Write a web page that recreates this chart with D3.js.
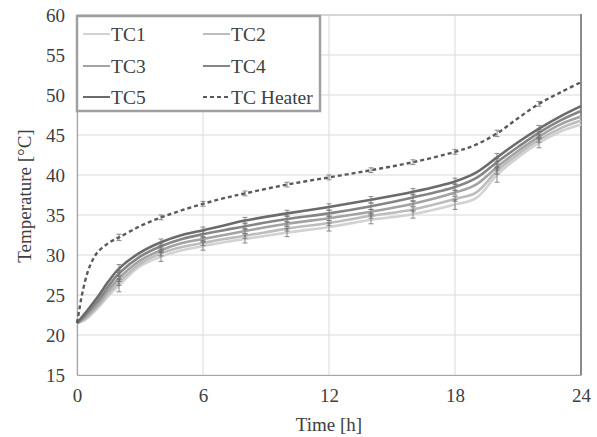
<!DOCTYPE html>
<html><head><meta charset="utf-8">
<script src="https://cdn.jsdelivr.net/npm/d3@7"></script>
<style>body{margin:0;background:#fff}svg{display:block}</style>
</head><body>
<svg id="c" width="597" height="437"></svg>
<script>
const timeTC = [0,0.25,0.5,1,1.5,2,3,4,5,6,7,8,10,12,14,16,18,19,20,21,22,23,24];
const TC1 = [21.5,21.7,22.1,23.4,24.9,26.2,28.6,29.8,30.6,31.1,31.6,32.0,32.8,33.5,34.4,35.1,36.3,37.1,40.0,42.2,44.0,45.4,46.3];
const TC2 = [21.5,21.8,22.3,23.6,25.2,26.6,28.9,30.2,31.0,31.5,32.0,32.4,33.3,34.0,34.9,35.7,37.0,37.8,40.5,42.6,44.4,45.8,46.8];
const TC3 = [21.5,21.9,22.5,23.9,25.6,27.1,29.3,30.6,31.5,32.0,32.5,33.0,33.9,34.6,35.4,36.4,37.8,38.8,41.0,43.0,44.8,46.3,47.3];
const TC4 = [21.5,22.1,22.8,24.3,26.1,27.7,29.8,31.1,32.0,32.6,33.1,33.6,34.5,35.2,36.1,37.2,38.5,39.6,41.6,43.5,45.3,46.8,48.0];
const TC5 = [21.5,22.3,23.1,24.8,26.7,28.3,30.3,31.6,32.5,33.1,33.7,34.3,35.2,36.0,36.9,37.9,39.2,40.3,42.2,44.1,45.8,47.3,48.6];
const timeHeater = [0,0.1,0.25,0.5,0.75,1,1.5,2,3,4,5,6,7,8,10,12,14,16,18,19,20,21,22,23,24];
const TCHeater = [21.5,23.0,25.2,27.8,29.4,30.4,31.5,32.2,33.6,34.7,35.6,36.4,37.1,37.7,38.8,39.7,40.6,41.6,42.9,43.8,45.2,47.1,48.9,50.3,51.6];
const errTimes = [2,4,6,8,10,12,14,16,18,20,22];
const errTC1 = [0.8,0.6,0.5,0.5,0.5,0.5,0.5,0.5,0.6,0.9,0.6];
const errTC2 = [0.4,0.3,0.3,0.3,0.3,0.3,0.3,0.3,0.3,0.4,0.3];
const errTC3 = [0.4,0.3,0.3,0.3,0.3,0.3,0.3,0.3,0.3,0.4,0.3];
const errTC4 = [0.4,0.4,0.4,0.4,0.4,0.4,0.4,0.4,0.4,0.5,0.4];
const errTC5 = [0.5,0.4,0.4,0.4,0.4,0.4,0.4,0.4,0.4,0.5,0.4];
const errHeater = [0.4,0.3,0.3,0.3,0.3,0.3,0.3,0.3,0.3,0.4,0.3];
const seriesNames = ["TC1","TC2","TC3","TC4","TC5","TC Heater"];
const xTicks = [0,6,12,18,24];
const yTicks = [15,20,25,30,35,40,45,50,55,60];

const series = [
  {name:"TC1", t:timeTC, v:TC1, e:errTC1, color:"#d2d2d2", dash:null},
  {name:"TC2", t:timeTC, v:TC2, e:errTC2, color:"#bdbdbd", dash:null},
  {name:"TC3", t:timeTC, v:TC3, e:errTC3, color:"#a3a3a3", dash:null},
  {name:"TC4", t:timeTC, v:TC4, e:errTC4, color:"#858585", dash:null},
  {name:"TC5", t:timeTC, v:TC5, e:errTC5, color:"#6b6b6b", dash:null},
  {name:"TC Heater", t:timeHeater, v:TCHeater, e:errHeater, color:"#5a5a5a", dash:"4,3"}
];

const svg = d3.select("#c");
const L=77, R=581, T=15, B=375;
const x = d3.scaleLinear().domain([0,24]).range([L,R]);
const y = d3.scaleLinear().domain([15,60]).range([B,T]);
const font = "'Liberation Serif','Times New Roman',serif";
const txt = "#404040";

// gridlines
svg.append("g").selectAll("line").data(yTicks).join("line")
  .attr("x1",L).attr("x2",R).attr("y1",d=>y(d)).attr("y2",d=>y(d))
  .attr("stroke","#d9d9d9").attr("stroke-width",1);
svg.append("g").selectAll("line").data(xTicks).join("line")
  .attr("y1",T).attr("y2",B).attr("x1",d=>x(d)).attr("x2",d=>x(d))
  .attr("stroke","#d9d9d9").attr("stroke-width",1);

// axes
const xAxis = svg.append("g").attr("transform",`translate(0,${B})`)
  .call(d3.axisBottom(x).tickValues(xTicks).tickSize(0).tickPadding(14));
const yAxis = svg.append("g").attr("transform",`translate(${L},0)`)
  .call(d3.axisLeft(y).tickValues(yTicks).tickSize(0).tickPadding(12));
[xAxis,yAxis].forEach(a=>{
  a.select(".domain").attr("stroke","#a6a6a6").attr("stroke-width",1.2);
  a.selectAll("text").attr("font-family",font).attr("font-size",19).attr("fill",txt);
});
// top and right border
svg.append("line").attr("x1",L).attr("x2",R).attr("y1",T).attr("y2",T).attr("stroke","#bfbfbf").attr("stroke-width",1.2);
svg.append("line").attr("x1",R).attr("x2",R).attr("y1",T-1).attr("y2",B).attr("stroke","#8a8a8a").attr("stroke-width",2);

// lines
const line = d3.line().curve(d3.curveCatmullRom.alpha(0.5));
series.forEach(s=>{
  const pts = s.t.map((t,i)=>[x(t),y(s.v[i])]);
  svg.append("path").attr("d",line(pts)).attr("fill","none")
    .attr("stroke",s.color).attr("stroke-width",s.dash?2.4:2.6)
    .attr("stroke-dasharray",s.dash);
});
// error bars
series.forEach(s=>{
  const g = svg.append("g").attr("stroke","#707070").attr("stroke-width",0.8);
  errTimes.forEach((t,i)=>{
    const v = s.v[s.t.indexOf(t)];
    const e = s.e[i];
    const cx = x(t);
    g.append("line").attr("x1",cx).attr("x2",cx).attr("y1",y(v-e)).attr("y2",y(v+e));
    g.append("line").attr("x1",cx-2.5).attr("x2",cx+2.5).attr("y1",y(v-e)).attr("y2",y(v-e));
    g.append("line").attr("x1",cx-2.5).attr("x2",cx+2.5).attr("y1",y(v+e)).attr("y2",y(v+e));
  });
});

// legend
const lg = svg.append("g");
lg.append("rect").attr("x",77).attr("y",16).attr("width",243).attr("height",95)
  .attr("fill","#fff").attr("stroke","#a0a0a0").attr("stroke-width",2.5);
series.forEach((s,i)=>{
  const col = i%2, row = Math.floor(i/2);
  const lx = col===0 ? 83 : 203;
  const ly = [34,66,97][row];
  lg.append("line").attr("x1",lx).attr("x2",lx+27).attr("y1",ly).attr("y2",ly)
    .attr("stroke",s.color).attr("stroke-width",2).attr("stroke-dasharray",s.dash);
  lg.append("text").attr("x",lx+28).attr("y",ly+7).text(seriesNames[i])
    .attr("font-family",font).attr("font-size",19.5).attr("fill",txt);
});

// axis titles
svg.append("text").attr("x",(L+R)/2).attr("y",431).attr("text-anchor","middle")
  .attr("font-family",font).attr("font-size",19).attr("fill",txt).text("Time [h]");
svg.append("text").attr("transform","translate(31,196) rotate(-90)").attr("text-anchor","middle")
  .attr("font-family",font).attr("font-size",19).attr("fill",txt).text("Temperature [°C]");
</script>
</body></html>
